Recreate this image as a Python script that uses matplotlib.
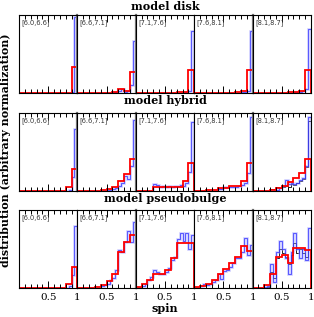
import numpy as np
import matplotlib
matplotlib.use('Agg')
import matplotlib.pyplot as plt
from matplotlib.ticker import MultipleLocator

# bin edges in spin
red_edges = np.linspace(0, 1, 11)
blue_edges = np.linspace(0, 1, 21)

models = ['model disk', 'model hybrid', 'model pseudobulge']
mass_bins = ['[6.0,6.6]', '[6.6,7.1]', '[7.1,7.6]', '[7.6,8.1]', '[8.1,8.7]']

disk_red = [
    [0, 0, 0, 0, 0, 0, 0, 0, 0, 0.33],
    [0, 0, 0, 0, 0, 0, 0.01, 0.04, 0.02, 0.27],
    [0, 0, 0, 0, 0, 0, 0, 0.005, 0.01, 0.29],
    [0, 0, 0, 0, 0, 0, 0, 0.005, 0.02, 0.29],
    [0, 0, 0, 0, 0, 0, 0.005, 0.01, 0.02, 0.29],
]
disk_blue = [
    [0]*18 + [0.005, 0.97],
    [0]*12 + [0.01, 0.01, 0.02, 0.05, 0.01, 0.02, 0.10, 0.66],
    [0]*16 + [0.005, 0.01, 0.02, 0.80],
    [0]*16 + [0.005, 0.01, 0.02, 0.80],
    [0]*14 + [0.005, 0.005, 0.01, 0.02, 0.04, 0.82],
]
hybrid_red = [
    [0, 0, 0, 0, 0, 0, 0, 0, 0.05, 0.28],
    [0, 0, 0, 0, 0.01, 0.02, 0.04, 0.12, 0.21, 0.41],
    [0, 0, 0, 0.04, 0.05, 0.05, 0.05, 0.05, 0.12, 0.35],
    [0, 0, 0.01, 0.01, 0.03, 0.03, 0.06, 0.06, 0.12, 0.35],
    [0, 0, 0, 0.01, 0.03, 0.06, 0.11, 0.16, 0.22, 0.41],
]
hybrid_blue = [
    [0]*17 + [0.01, 0.18, 0.79],
    [0]*10 + [0.005, 0.01, 0.02, 0.03, 0.06, 0.10, 0.19, 0.15, 0.31, 0.91],
    [0]*6 + [0.08, 0.07, 0.05, 0.06, 0.05, 0.06, 0.05, 0.06, 0.06, 0.07, 0.06, 0.10, 0.24, 0.89],
    [0]*8 + [0.02, 0.02, 0.04, 0.05, 0.05, 0.05, 0.05, 0.06, 0.07, 0.10, 0.22, 0.95],
    [0]*8 + [0.01, 0.03, 0.06, 0.13, 0.08, 0.10, 0.08, 0.10, 0.13, 0.16, 0.32, 0.95],
]
hybrid_black = [None, None, None, None,
                [0]*6 + [0.02, 0.02, 0.04, 0.03, 0.05, 0.06, 0.05, 0.08, 0.07, 0.10, 0.12, 0.15, 0.30, 0.90]]
pseudo_red = [
    [0, 0, 0, 0, 0, 0, 0, 0, 0.05, 0.27],
    [0, 0, 0, 0.01, 0.03, 0.08, 0.18, 0.46, 0.59, 0.68],
    [0.01, 0.04, 0.095, 0.18, 0.18, 0.22, 0.38, 0.57, 0.57, 0.57],
    [0.005, 0.02, 0.05, 0.10, 0.17, 0.24, 0.31, 0.40, 0.53, 0.47],
    [0, 0, 0.03, 0.18, 0.40, 0.42, 0.31, 0.51, 0.51, 0.48],
]
pseudo_blue = [
    [0]*17 + [0.02, 0.16, 0.80],
    [0]*8 + [0.02, 0.03, 0.05, 0.10, 0.12, 0.22, 0.48, 0.46, 0.59, 0.73, 0.59, 0.85],
    [0, 0, 0.02, 0.05, 0.10, 0.13, 0.22, 0.20, 0.17, 0.17, 0.20, 0.25, 0.35, 0.40, 0.62, 0.70, 0.60, 0.70, 0.50, 0.68],
    [0, 0, 0.02, 0.05, 0.03, 0.04, 0.07, 0.10, 0.18, 0.11, 0.21, 0.23, 0.26, 0.31, 0.38, 0.38, 0.46, 0.64, 0.42, 0.55],
    [0, 0, 0, 0, 0.005, 0.02, 0.30, 0.07, 0.46, 0.60, 0.50, 0.38, 0.18, 0.46, 0.70, 0.50, 0.38, 0.50, 0.35, 0.77],
]
pseudo_black = [None, None, None, None,
                [0, 0, 0, 0, 0, 0.01, 0.20, 0.12, 0.38, 0.50, 0.45, 0.40, 0.30, 0.42, 0.58, 0.45, 0.50, 0.45, 0.40, 0.50]]

rows = [
    (disk_red, disk_blue, [None]*5),
    (hybrid_red, hybrid_blue, hybrid_black),
    (pseudo_red, pseudo_blue, pseudo_black),
]
# panels whose right edge shows the grey line
grey_edges = [[0, 1, 3], [0, 1, 3], [1, 3]]

fig = plt.figure(figsize=(3.14, 3.17), dpi=100)
left, right = 19/314, 311/314
pw = (right - left) / 5
row_tops = [1 - 15/317, 1 - 113/317, 1 - 210/317]
ph = 77.5/317
title_y = [1 - 6/317, 1 - 101/317, 1 - 199/317]

for r in range(3):
    reds, blues, blacks = rows[r]
    for c in range(5):
        ax = fig.add_axes([left + c*pw, row_tops[r] - ph, pw, ph])
        if blacks[c] is not None:
            ax.stairs(blacks[c], blue_edges, color='black', lw=0.6)
        ax.stairs(blues[c], blue_edges, color='#9a9aff', lw=1.8, alpha=0.55)
        ax.stairs(blues[c], blue_edges, color='#2b2bff', lw=0.5)
        ax.stairs(reds[c], red_edges, color='red', lw=1.3)
        ax.set_xlim(0, 1)
        ax.set_ylim(0, 1)
        ax.set_yticks([])
        ax.xaxis.set_major_locator(MultipleLocator(0.5))
        ax.xaxis.set_minor_locator(MultipleLocator(0.1))
        ax.tick_params(axis='x', which='both', direction='in', top=True, bottom=True)
        ax.tick_params(axis='x', which='major', length=5, width=0.7)
        ax.tick_params(axis='x', which='minor', length=3, width=0.7)
        for s in ax.spines.values():
            s.set_linewidth(0.8)
        if c in grey_edges[r]:
            ax.spines['right'].set_color('#777777')
            ax.spines['right'].set_linewidth(1.6)
        if r == 2:
            ax.set_xticks([0.5, 1.0])
            ax.set_xticklabels(['0.5', '1'], family='DejaVu Serif', fontsize=7.5)
            ax.tick_params(axis='x', which='major', pad=4)
        else:
            ax.set_xticklabels([])
        ax.text(0.04, 0.95, mass_bins[c], transform=ax.transAxes, fontsize=4.8,
                family='DejaVu Sans', va='top', ha='left', color='#333333')
    fig.text((left + right) / 2, title_y[r], models[r], ha='center', va='center',
             family='DejaVu Serif', fontweight='bold', fontsize=8)

fig.text((left + right) / 2, 1 - 308/317, 'spin', ha='center', va='center',
         family='DejaVu Serif', fontweight='bold', fontsize=8)
fig.text(6/314, 1 - 150/317, 'distribution (arbitrary normalization)', rotation=90,
         ha='center', va='center', family='DejaVu Serif', fontweight='bold', fontsize=7.9)

fig.savefig('out.png', dpi=100)
